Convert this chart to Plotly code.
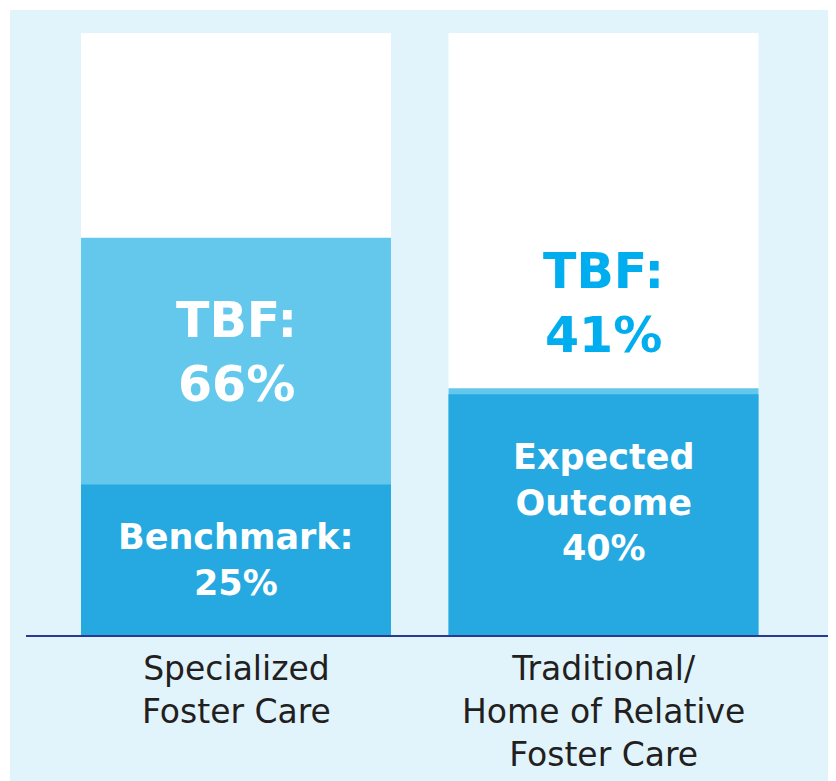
import plotly.graph_objects as go

# ---- data ----
categories = ["Specialized<br>Foster Care", "Traditional/<br>Home of Relative<br>Foster Care"]
tbf_values = [66, 41]
reference_values = [25, 40]
reference_names = ["Benchmark:", "Expected<br>Outcome"]
full_scale = [100, 100]

# ---- styles ----
BG = "#e1f4fc"
LIGHT = "#63c8ec"
DARK = "#25a9e0"
TBF_TEXT_OUT = "#00aeef"
AXIS = "#2b3990"
LABEL = "#231f20"
FONT = "DejaVu Sans"
BAR_W = 0.8435

# page body adds an 8px offset; figure sized to fit the window
W, H = 828, 773
ML, MR, MT, MB = 18, 5, 25, 146
PW = W - ML - MR
PH = H - MT - MB

xpos = list(range(len(categories)))

fig = go.Figure()
fig.add_bar(x=xpos, y=full_scale, width=BAR_W, marker=dict(color="white", line=dict(width=0)),
            opacity=1, hoverinfo="skip", showlegend=False)
fig.add_bar(x=xpos, y=tbf_values, width=BAR_W, marker=dict(color=LIGHT, line=dict(width=0)),
            opacity=1, name="TBF", showlegend=False)
fig.add_bar(x=xpos, y=reference_values, width=BAR_W, marker=dict(color=DARK, line=dict(width=0)),
            opacity=1, name="Reference", showlegend=False)

annotations = []
for i, (t, r, rn) in enumerate(zip(tbf_values, reference_values, reference_names)):
    annotations.append(dict(
        x=i, y=r / 2, xref="x", yref="y", showarrow=False,
        text=f"<b>{rn}<br>{r}%</b>", align="center", yshift=12 * i,
        font=dict(family=FONT, size=35, color="white"),
        xanchor="center", yanchor="middle"))
    if t - r > 20:
        annotations.append(dict(
            x=i, y=(t + r) / 2, xref="x", yref="y", showarrow=False, yshift=9,
            text=f"<b>TBF:<br>{t}%</b>", align="center",
            font=dict(family=FONT, size=49, color="white"),
            xanchor="center", yanchor="middle"))
    else:
        annotations.append(dict(
            x=i, y=t, xref="x", yref="y", showarrow=False, yshift=22,
            text=f"<b>TBF:<br>{t}%</b>", align="center",
            font=dict(family=FONT, size=49, color=TBF_TEXT_OUT),
            xanchor="center", yanchor="bottom"))

# category labels below axis
for i, cat in enumerate(categories):
    annotations.append(dict(
        x=i, y=0, xref="x", yref="y", showarrow=False,
        text=cat, yshift=-12, align="center",
        font=dict(family=FONT, size=33, color=LABEL),
        xanchor="center", yanchor="top"))

unit = 367.5
x0 = -(228 - ML) / unit
x1 = x0 + PW / unit

fig.update_layout(
    width=W, height=H,
    margin=dict(l=ML, r=MR, t=MT, b=MB, pad=0),
    barmode="overlay",
    paper_bgcolor="white",
    plot_bgcolor="rgba(0,0,0,0)",
    showlegend=False,
    xaxis=dict(range=[x0, x1], showticklabels=False, showgrid=False, zeroline=False,
               showline=True, linecolor=AXIS, linewidth=2, ticks="", fixedrange=True),
    yaxis=dict(range=[0, 100], visible=False, showgrid=False, zeroline=False, fixedrange=True),
    annotations=annotations,
    shapes=[dict(type="rect", xref="paper", yref="paper",
                 x0=(2 - ML) / PW, x1=(W - ML) / PW,
                 y0=-MB / PH, y1=(H - MB - 2) / PH,
                 fillcolor=BG, line=dict(width=0), layer="below")],
)

fig.write_html("out.html")
